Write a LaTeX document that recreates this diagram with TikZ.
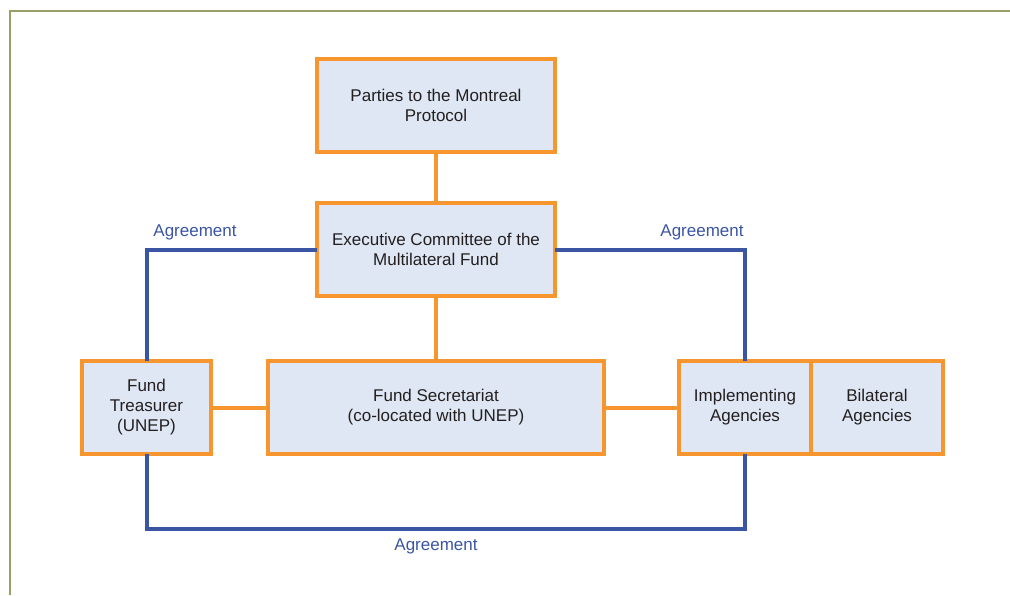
\documentclass[tikz,border=0pt]{standalone}
\usepackage{fontspec}
\setmainfont{Liberation Sans}
\usepackage{tikz}
\usetikzlibrary{positioning}
\definecolor{boxorange}{HTML}{F7962F}
\definecolor{boxfill}{HTML}{DEE7F3}
\definecolor{agreeblue}{HTML}{3A55A4}
\definecolor{frameolive}{HTML}{9A9F6A}
\definecolor{textgray}{HTML}{231F20}

\begin{document}
\begin{tikzpicture}[x=0.5pt,y=-0.5pt,
    box/.style={draw=boxorange,line width=2pt,fill=boxfill,align=center,
      minimum height=46.5pt,inner sep=0pt,text=textgray,
      font=\fontsize{8.5}{10}\selectfont},
    link/.style={boxorange,line width=2pt},
    agree/.style={agreeblue,line width=2pt,line cap=rect},
    agreetext/.style={text=agreeblue,font=\fontsize{8.5}{10}\selectfont}]
  \useasboundingbox (0,0) rectangle (1010,595);
  \draw[frameolive,line width=0.7pt] (10,595) -- (10,11) -- (1010,11);
  % boxes
  \node[box,minimum width=119pt] (parties) at (436,105.5) {Parties to the Montreal\\Protocol};
  \node[box,minimum width=119pt] (exec) at (436,249.5) {Executive Committee of the\\Multilateral Fund};
  \node[box,minimum width=64.5pt] (treas) at (146.5,407.5) {Fund\\Treasurer\\(UNEP)};
  \node[box,minimum width=168pt] (secr) at (436,407.5) {Fund Secretariat\\(co-located with UNEP)};
  \node[box,minimum width=66pt] (impl) at (745,407.5) {Implementing\\Agencies};
  \node[box,minimum width=66pt] (bilat) at (877,407.5) {Bilateral\\Agencies};
  % orange links
  \draw[link] (parties) -- (exec);
  \draw[link] (exec) -- (secr);
  \draw[link] (treas) -- (secr);
  \draw[link] (secr) -- (impl);
  % agreements
  \coordinate (low) at (436,529);
  \draw[agree] (exec.west) -| (treas.north);
  \draw[agree] (exec.east) -| (impl.north);
  \draw[agree] (treas.south) |- (low) -| (impl.south);
  \node[agreetext] (agleft) at (195,232) {Agreement};
  \node[agreetext] (agright) at (702,232) {Agreement};
  \node[agreetext] (agbottom) at (436,546) {Agreement};
\end{tikzpicture}
\end{document}
